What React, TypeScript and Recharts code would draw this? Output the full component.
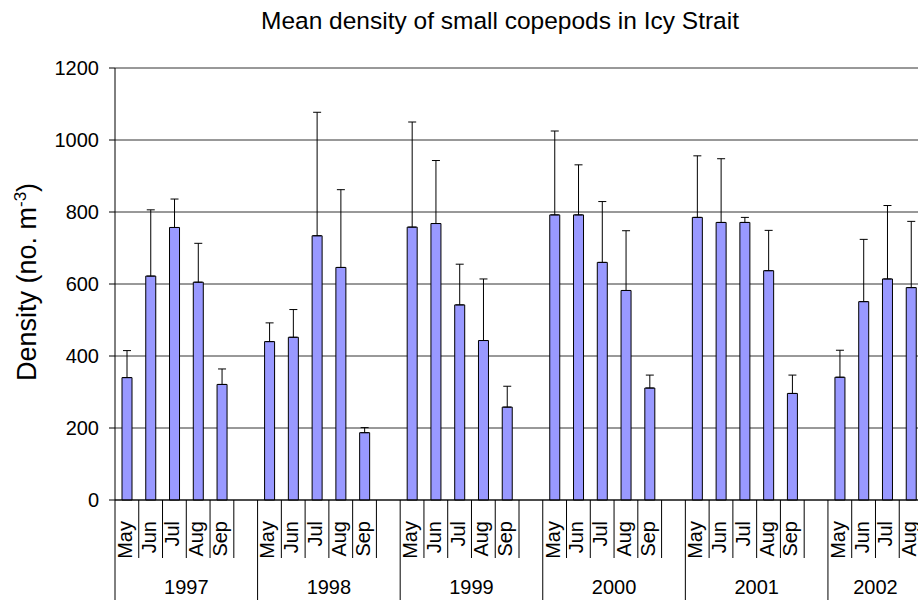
import React from "react";
import { BarChart, Bar, XAxis, YAxis, CartesianGrid, ErrorBar } from "recharts";

// sampling months per year, with a blank slot between years
const years = ["1997", "1998", "1999", "2000", "2001", "2002"];
const months = ["May", "Jun", "Jul", "Aug", "Sep"];
const yTicks = [0, 200, 400, 600, 800, 1000, 1200];

// mean density (no. m-3)
const mean1997 = [340, 622, 757, 605, 321];
const mean1998 = [440, 452, 734, 646, 187];
const mean1999 = [758, 768, 542, 443, 258];
const mean2000 = [792, 792, 660, 582, 311];
const mean2001 = [785, 771, 771, 637, 296];
const mean2002 = [341, 551, 614, 590];

// top of the error bar (mean + SE)
const top1997 = [415, 806, 836, 713, 364];
const top1998 = [492, 529, 1077, 862, 201];
const top1999 = [1050, 943, 655, 614, 316];
const top2000 = [1025, 931, 829, 748, 347];
const top2001 = [956, 948, 785, 749, 347];
const top2002 = [416, 724, 818, 774];

const means = [mean1997, mean1998, mean1999, mean2000, mean2001, mean2002];
const tops = [top1997, top1998, top1999, top2000, top2001, top2002];

type Row = { key: string; year: string; month: string; density: number | null; err: number[] | null; first: boolean; groupSize: number };

const rows: Row[] = [];
years.forEach((year, yi) => {
  const vals = means[yi];
  const last = yi === years.length - 1;
  const groupSize = vals.length + (last ? 0 : 1);
  vals.forEach((m, mi) => {
    const t = tops[yi][mi];
    rows.push({ key: `${year}-${mi}`, year, month: months[mi], density: m, err: [0, t - m], first: mi === 0, groupSize });
  });
  if (!last) rows.push({ key: `${year}-gap`, year, month: "", density: null, err: null, first: false, groupSize });
});

const FONT = "'Liberation Sans', Arial, sans-serif";
const CHART_W = 925;
const CHART_H = 600;
const MARGIN = { top: 68, right: 2, bottom: 0, left: 0 };
const Y_AXIS_W = 115;
const SLOT = (CHART_W - MARGIN.left - MARGIN.right - Y_AXIS_W) / rows.length;

const CategoryTick = (props: any) => {
  const { x, y, index } = props;
  const row = rows[index];
  if (!row) return null;
  const left = x - SLOT / 2;
  const tx = x + 5;
  const ty = y + 21;
  return (
    <g>
      <line x1={left} y1={y} x2={left} y2={row.first ? y + 100 : y + 58} stroke="#000" strokeWidth={1} />
      {row.month && (
        <text
          x={tx}
          y={ty}
          transform={`rotate(-90 ${tx} ${ty})`}
          textAnchor="end"
          fontSize={20}
          fontFamily={FONT}
          fill="#000"
        >
          {row.month}
        </text>
      )}
      {row.first && (
        <text x={left + (SLOT * row.groupSize) / 2} y={y + 94} textAnchor="middle" fontSize={20} fontFamily={FONT} fill="#000">
          {row.year}
        </text>
      )}
    </g>
  );
};

export default function App() {
  return (
    <div
      style={{
        position: "absolute",
        left: 0,
        top: 0,
        width: 918,
        height: 600,
        overflow: "hidden",
        background: "#fff",
      }}
    >
      <BarChart width={CHART_W} height={CHART_H} data={rows} margin={MARGIN}>
        <CartesianGrid vertical={false} stroke="#333" strokeWidth={1} />
        <XAxis
          dataKey="key"
          interval={0}
          height={100}
          tickSize={0}
          tickMargin={0}
          tickLine={false}
          axisLine={{ stroke: "#000" }}
          tick={<CategoryTick />}
        />
        <YAxis
          width={Y_AXIS_W}
          domain={[0, 1200]}
          ticks={yTicks}
          tickSize={6}
          tickMargin={10}
          axisLine={{ stroke: "#000" }}
          tickLine={{ stroke: "#000" }}
          tick={{ fill: "#000", fontSize: 20, fontFamily: FONT }}
        />
        <Bar dataKey="density" barSize={10} fill="#9999FF" stroke="#000" strokeWidth={1} isAnimationActive={false}>
          <ErrorBar dataKey="err" direction="y" width={4} stroke="#000" strokeWidth={1} />
        </Bar>
      </BarChart>
      <svg
        width={918}
        height={600}
        style={{ position: "absolute", left: 0, top: 0, pointerEvents: "none" }}
      >
        <text x={500} y={29} textAnchor="middle" fontSize={24.5} fontFamily={FONT} fill="#000">
          Mean density of small copepods in Icy Strait
        </text>
        <text
          x={36}
          y={282}
          transform="rotate(-90 36 282)"
          textAnchor="middle"
          fontSize={27}
          fontFamily={FONT}
          fill="#000"
        >
          Density (no. m<tspan dy={-10} fontSize={17}>-3</tspan>
          <tspan dy={10}>)</tspan>
        </text>
      </svg>
    </div>
  );
}
